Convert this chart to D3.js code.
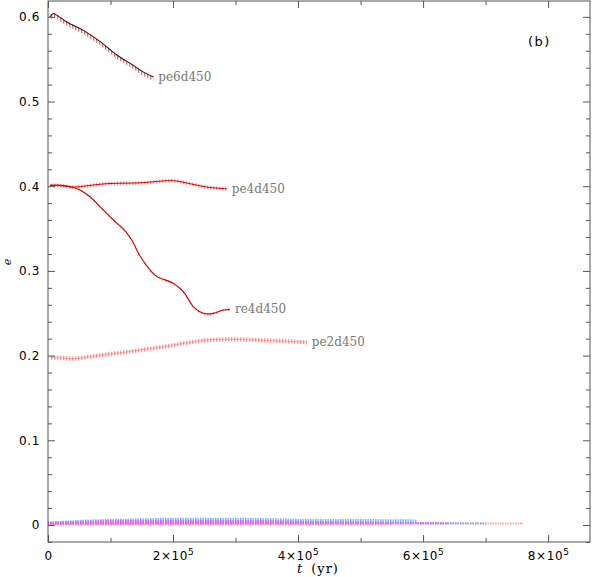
<!DOCTYPE html>
<html><head><meta charset="utf-8">
<script src="https://cdn.jsdelivr.net/npm/d3@7"></script>
<style>body{margin:0;background:#fff}</style>
</head><body>
<svg id="c" width="592" height="577"></svg>
<script>
// ---- data (t in years, e eccentricity) ----
const pe6T = [3e3, 8.5e3, 1.4e4, 3.0e4, 5.65e4, 8.3e4, 1.10e5, 1.36e5, 1.52e5, 1.685e5];
const pe6E = [0.600, 0.604, 0.602, 0.594, 0.584, 0.571, 0.555, 0.543, 0.535, 0.529];

const pe4T = [3e3, 1.9e4, 4.05e4, 5.65e4, 9.4e4, 1.47e5, 2.005e5, 2.27e5, 2.54e5, 2.86e5];
const pe4E = [0.401, 0.401, 0.399, 0.400, 0.403, 0.404, 0.4065, 0.403, 0.399, 0.397];

const re4T = [3e3, 1.9e4, 4.05e4, 5.12e4, 6.72e4, 8.32e4, 1.045e5, 1.205e5, 1.339e5, 1.472e5, 1.632e5, 1.739e5, 2.005e5, 2.165e5, 2.325e5, 2.485e5, 2.645e5, 2.805e5, 2.912e5];
const re4E = [0.401, 0.401, 0.3985, 0.3955, 0.3876, 0.3758, 0.3601, 0.3495, 0.3365, 0.3175, 0.3011, 0.2935, 0.2853, 0.2755, 0.2578, 0.2499, 0.2499, 0.2538, 0.2545];

const pe2T = [3e3, 1.9e4, 4.05e4, 6.7e4, 9.4e4, 1.205e5, 1.47e5, 1.74e5, 2.005e5, 2.27e5, 2.54e5, 2.805e5, 3.07e5, 3.34e5, 3.605e5, 3.87e5, 4.14e5];
const pe2E = [0.1975, 0.1975, 0.1963, 0.1987, 0.2015, 0.2038, 0.2066, 0.2093, 0.2125, 0.2157, 0.2184, 0.2192, 0.2192, 0.2184, 0.2176, 0.2168, 0.2157];

// oscillation band below / above each traced curve
const mainNames = ["pe6d450", "pe4d450", "re4d450", "pe2d450"];
const oscBelow = [0.0045, 0.0022, 0.0015, 0.0025];
const oscAbove = [0.0005, 0.0020, 0.0012, 0.0025];

// low-eccentricity runs: upper / lower envelope
const orangeT = [0, 2e5, 4e5, 5.5e5];
const orangeHi = [0.0015, 0.002, 0.002, 0.0015];
const orangeLo = [-0.001, -0.001, -0.001, -0.001];
const salmonT = [0, 2e5, 4e5, 6e5, 7.6e5];
const salmonHi = [0.003, 0.004, 0.0035, 0.003, 0.003];
const salmonLo = [0.0, 0.0, 0.0, 0.0005, 0.0005];
const blueT = [0, 5e4, 1e5, 2e5, 3e5, 4e5, 5e5, 5.9e5];
const blueHi = [0.004, 0.006, 0.007, 0.0085, 0.0085, 0.0075, 0.007, 0.0065];
const blueLo = [0.001, 0.001, 0.001, 0.0015, 0.0015, 0.0015, 0.0015, 0.0015];
const blueTailT = [5.9e5, 7.0e5];
const blueTailHi = [0.0035, 0.003];
const blueTailLo = [0.001, 0.001];
const magentaT = [0, 1e5, 2e5, 3e5, 4e5, 5e5, 6.4e5];
const magentaHi = [0.004, 0.006, 0.0062, 0.006, 0.005, 0.0042, 0.003];
const magentaLo = [0.0005, 0.0005, 0.0008, 0.0008, 0.0008, 0.0008, 0.0008];

const xMajor = [0, 2e5, 4e5, 6e5, 8e5];
const xMinor = [1e5, 3e5, 5e5, 7e5];
const yMajor = [0, 0.1, 0.2, 0.3, 0.4, 0.5, 0.6];
const yMinorVals = [-0.02,0.02,0.04,0.06,0.08,0.12,0.14,0.16,0.18,0.22,0.24,0.26,0.28,0.32,0.34,0.36,0.38,0.42,0.44,0.46,0.48,0.52,0.54,0.56,0.58];

// ---- drawing ----
const svg = d3.select("#c");
const L = 48, R = 590, T = 1, B = 542;
const x = d3.scaleLinear().domain([0, 8.67e5]).range([L, R]);
const y = d3.scaleLinear().domain([-0.0201, 0.6187]).range([B, T]);

const defs = svg.append("defs");
function hatch(id, color, sw, w) {
  const p = defs.append("pattern").attr("id", id).attr("patternUnits", "userSpaceOnUse")
    .attr("width", w || 3).attr("height", 6);
  p.append("line").attr("x1", 0.75).attr("x2", 0.75).attr("y1", 0).attr("y2", 6)
    .attr("stroke", color).attr("stroke-width", sw);
}
hatch("hPe6", "#c04040", 0.9);
hatch("hRed", "#ff5050", 0.8);
hatch("hPe2", "#ff5050", 0.8);
hatch("hOrange", "#ffb060", 1.1);
hatch("hSalmon", "#ff8a80", 1.2, 2.5);
hatch("hBlue", "#4aa8ff", 1.2, 2.5);
hatch("hMag", "#ff40ff", 1.2, 2.5);

const g = svg.append("g");

function band(T_, hi, lo, fill) {
  const pts = T_.map((t, i) => ({t, hi: hi[i], lo: lo[i]}));
  g.append("path").datum(pts)
    .attr("d", d3.area().x(d => x(d.t)).y0(d => y(d.lo)).y1(d => y(d.hi)).curve(d3.curveCatmullRom))
    .attr("fill", fill);
}
function line(T_, E_, color, w) {
  const pts = T_.map((t, i) => ({t, e: E_[i]}));
  g.append("path").datum(pts)
    .attr("d", d3.line().x(d => x(d.t)).y(d => y(d.e)).curve(d3.curveCatmullRom))
    .attr("fill", "none").attr("stroke", color).attr("stroke-width", w);
}

// low-e runs
band(orangeT, orangeHi, orangeLo, "url(#hOrange)");
band(salmonT, salmonHi, salmonLo, "url(#hSalmon)");
band(blueT, blueHi, blueLo, "url(#hBlue)");
band(blueTailT, blueTailHi, blueTailLo, "url(#hBlue)");
band(magentaT, magentaHi, magentaLo, "url(#hMag)");

// main runs
const mainT = [pe6T, pe4T, re4T, pe2T];
const mainE = [pe6E, pe4E, re4E, pe2E];
const bandFill = ["url(#hPe6)", "url(#hRed)", "url(#hRed)", "url(#hPe2)"];
const lineCol = ["#4a0808", "#d40000", "#d40000", "#ff6666"];
const lineW = [1.1, 1.0, 1.1, 0.5];
mainNames.forEach((n, k) => {
  band(mainT[k], mainE[k].map(e => e + oscAbove[k]), mainE[k].map(e => e - oscBelow[k]), bandFill[k]);
  line(mainT[k], mainE[k], lineCol[k], lineW[k]);
  const i = mainT[k].length - 1;
  svg.append("text").attr("x", x(mainT[k][i]) + 5).attr("y", y(mainE[k][i]) + 4)
    .attr("font-family", "DejaVu Serif").attr("font-size", 12).attr("fill", "#777")
    .text(n);
});

// axes
function styleAxis(sel) {
  sel.select(".domain").remove();
  sel.selectAll(".tick line").attr("stroke", "#555");
}
function supLabel(sel) {
  sel.selectAll(".tick text").each(function(d) {
    const t = d3.select(this).text("");
    if (d === 0) { t.text("0"); return; }
    const m = d / 1e5;
    t.append("tspan").text(m + "×10");
    t.append("tspan").attr("dy", "-0.5em").attr("font-size", 9).text("5");
  });
}
const fontAx = "DejaVu Sans";
svg.append("g").attr("transform", `translate(0,${B})`)
  .call(d3.axisBottom(x).tickValues(xMajor).tickSize(-7).tickPadding(9))
  .call(styleAxis).call(supLabel)
  .call(s => s.selectAll("text").attr("font-family", fontAx).attr("font-size", 12)
    .attr("letter-spacing", 0.6).attr("fill", "#000"));
svg.append("g").attr("transform", `translate(0,${B})`)
  .call(d3.axisBottom(x).tickValues(xMinor).tickSize(-4).tickFormat("")).call(styleAxis);
svg.append("g").attr("transform", `translate(0,${T})`)
  .call(d3.axisTop(x).tickValues(xMajor).tickSize(-7).tickFormat("")).call(styleAxis);
svg.append("g").attr("transform", `translate(0,${T})`)
  .call(d3.axisTop(x).tickValues(xMinor).tickSize(-4).tickFormat("")).call(styleAxis);

svg.append("g").attr("transform", `translate(${L},0)`)
  .call(d3.axisLeft(y).tickValues(yMajor).tickSize(-7).tickPadding(8).tickFormat(d3.format("~g")))
  .call(styleAxis)
  .call(s => s.selectAll("text").attr("font-family", fontAx).attr("font-size", 12)
    .attr("letter-spacing", 0.6).attr("fill", "#000"));
svg.append("g").attr("transform", `translate(${L},0)`)
  .call(d3.axisLeft(y).tickValues(yMinorVals).tickSize(-4).tickFormat("")).call(styleAxis);
svg.append("g").attr("transform", `translate(${R},0)`)
  .call(d3.axisRight(y).tickValues(yMajor).tickSize(-7).tickFormat("")).call(styleAxis);
svg.append("g").attr("transform", `translate(${R},0)`)
  .call(d3.axisRight(y).tickValues(yMinorVals).tickSize(-4).tickFormat("")).call(styleAxis);

svg.append("rect").attr("x", L).attr("y", T).attr("width", R - L).attr("height", B - T)
  .attr("fill", "none").attr("stroke", "#555").attr("stroke-width", 1);

// titles
const xt = svg.append("text").attr("x", 297).attr("y", 573)
  .attr("font-family", "DejaVu Serif").attr("font-size", 13).attr("fill", "#000");
xt.append("tspan").attr("font-style", "italic").text("t");
xt.append("tspan").attr("dx", 9).attr("letter-spacing", 1).text("(yr)");
svg.append("text").attr("transform", "translate(7,262) rotate(-90)").attr("text-anchor", "middle")
  .attr("dominant-baseline", "central")
  .attr("font-family", "DejaVu Serif").attr("font-style", "italic").attr("font-size", 11).text("e");
svg.append("text").attr("x", 528).attr("y", 46).attr("font-family", "DejaVu Sans")
  .attr("font-size", 13).attr("letter-spacing", 1.5).text("(b)");
</script>
</body></html>
